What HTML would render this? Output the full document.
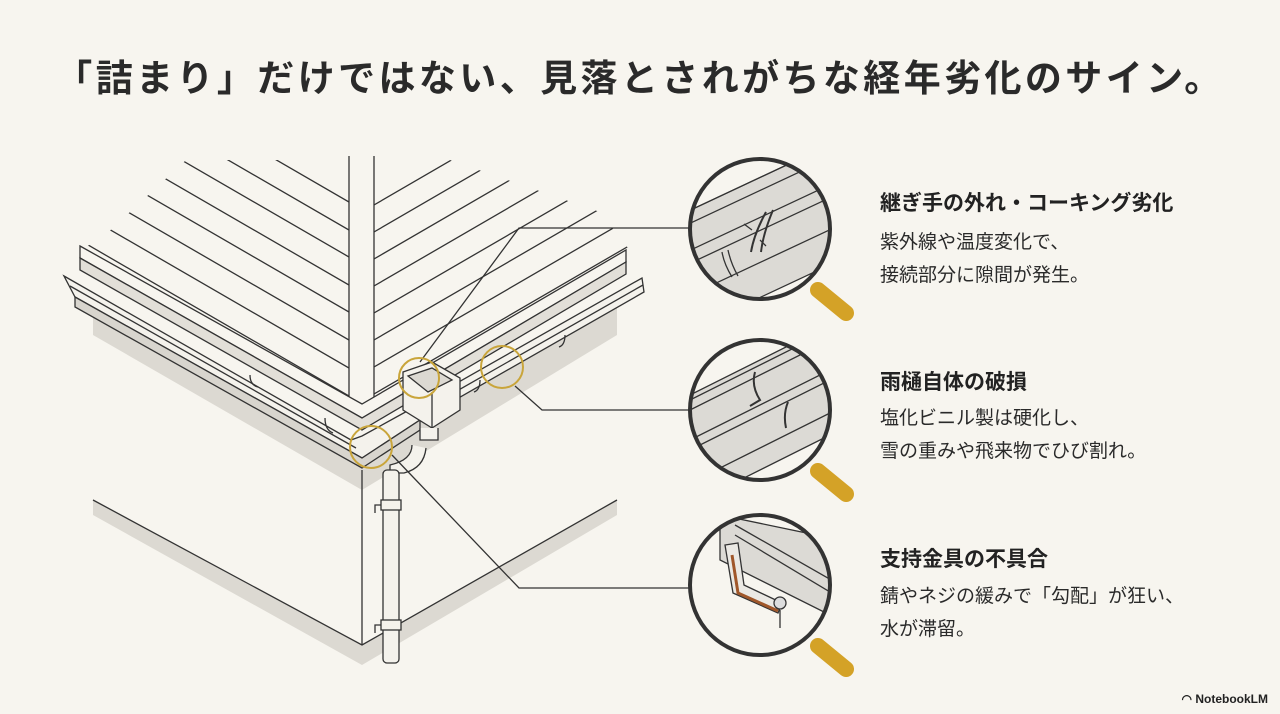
<!DOCTYPE html>
<html><head><meta charset="utf-8"><style>
html,body{margin:0;padding:0;background:#f7f5ef;}
body{width:1280px;height:714px;position:relative;overflow:hidden;font-family:"Liberation Sans","Noto Sans CJK JP",sans-serif;color:#222;}
.t{position:absolute;left:0;width:1280px;top:48px;text-align:center;font-size:37px;font-weight:bold;letter-spacing:3.4px;color:#2a2a2a;}
.h{position:absolute;left:880px;font-size:21px;font-weight:bold;color:#222;}
.b{position:absolute;left:880px;font-size:19px;line-height:33px;color:#2a2a2a;}
.nb{position:absolute;right:12px;bottom:8px;font-size:12px;font-weight:bold;color:#222;}
</style></head><body>
<svg width="1280" height="714" style="position:absolute;left:0;top:0">
<defs>
<clipPath id="cl"><polygon points="186,160 349,160 349,400 80,250 102,238"/></clipPath>
<clipPath id="cr"><polygon points="374,160 450,160 600,212 628,248 374,400"/></clipPath>
<clipPath id="m1"><circle cx="760" cy="229" r="70"/></clipPath>
<clipPath id="m2"><circle cx="760" cy="410" r="70"/></clipPath>
<clipPath id="m3"><circle cx="760" cy="585" r="70"/></clipPath>
</defs>
<g stroke="#333" stroke-width="1.3" fill="none">
<polygon points="93,300 93,335 362,490 617,335 617,300 362,455" fill="#dcd9d2" stroke="none"/>
<polygon points="93,500 93,515 362,665 617,515 617,500 362,645" fill="#dcd9d2" stroke="none"/>
<polyline points="93,500 362,645 617,500"/>
<line x1="362" y1="470" x2="362" y2="645"/>
<g clip-path="url(#cl)">
<line x1="0" y1="83" x2="349" y2="285"/><line x1="0" y1="110" x2="349" y2="312"/><line x1="0" y1="138" x2="349" y2="340"/>
<line x1="0" y1="55" x2="349" y2="257"/><line x1="0" y1="28" x2="349" y2="230"/><line x1="0" y1="0" x2="349" y2="202"/>
<line x1="0" y1="166" x2="349" y2="368"/><line x1="0" y1="194" x2="349" y2="396"/>
</g>
<g clip-path="url(#cr)">
<line x1="374" y1="205" x2="720" y2="4"/><line x1="374" y1="232" x2="720" y2="31"/><line x1="374" y1="259" x2="720" y2="58"/>
<line x1="374" y1="286" x2="720" y2="85"/><line x1="374" y1="313" x2="720" y2="112"/><line x1="374" y1="340" x2="720" y2="139"/>
<line x1="374" y1="367" x2="720" y2="166"/><line x1="374" y1="394" x2="720" y2="193"/>
</g>
<line x1="349" y1="156" x2="349" y2="400"/><line x1="374" y1="156" x2="374" y2="400"/>
<polygon points="80,246 362,404 626,250 626,262 362,418 80,258" fill="#f7f5ef"/>
<polygon points="80,258 362,418 626,262 626,274 362,430 80,270" fill="#e2dfd8"/>
<polygon points="64,276 351,440 362,436 420,404 642,278 644,292 420,420 362,458 75,297" fill="#f4f2ec"/>
<line x1="70" y1="286" x2="356" y2="448"/><line x1="420" y1="412" x2="643" y2="285"/>
<polygon points="75,297 362,458 420,420 420,430 362,468 75,307" fill="#d8d5ce"/>
<path d="M250,375 q0,10 8,12 M325,418 q0,12 8,15 M565,335 q0,10 -6,12 M480,380 q0,10 -6,12"/>
<polygon points="403,372 432,362 460,378 460,410 432,428 403,410" fill="#f4f2ec"/>
<polygon points="408,376 432,368 452,380 428,392" fill="#dcd9d2"/>
<line x1="432" y1="392" x2="432" y2="428"/>
<path d="M420,428 v12 h18 v-12 M412,445 q0,15 -22,20 v8 h14 q20,-5 22,-25" fill="#f4f2ec"/>
<rect x="383" y="470" width="16" height="193" rx="4" fill="#f4f2ec"/>
<rect x="381" y="500" width="20" height="10" fill="#f4f2ec"/><rect x="381" y="620" width="20" height="10" fill="#f4f2ec"/>
<path d="M381,505 h-6 v8 M381,625 h-6 v8"/>
</g>
<g stroke="#333" stroke-width="1.3" fill="none">
<polyline points="420,362 519,228 690,228"/>
<polyline points="515,386 542,410 690,410"/>
<polyline points="392,455 519,588 690,588"/>
</g>
<g stroke="#c9a53b" stroke-width="2" fill="none">
<circle cx="419" cy="378" r="20"/><circle cx="502" cy="367" r="21"/><circle cx="371" cy="447" r="21"/>
</g>
<g stroke-linecap="round">
<line x1="818" y1="290" x2="846" y2="313" stroke="#d4a227" stroke-width="16"/>
<line x1="818" y1="471" x2="846" y2="494" stroke="#d4a227" stroke-width="16"/>
<line x1="818" y1="646" x2="846" y2="669" stroke="#d4a227" stroke-width="16"/>
</g>
<g stroke="#333" stroke-width="1.3" fill="none">
<circle cx="760" cy="229" r="70" fill="#f7f5ef"/>
<g clip-path="url(#m1)">
<polygon points="680,215 840,140 840,260 680,335" fill="#dcdad5"/>
<line x1="680" y1="215" x2="840" y2="140"/><line x1="680" y1="228" x2="840" y2="153"/>
<line x1="680" y1="255" x2="840" y2="180"/><line x1="680" y1="268" x2="840" y2="193"/>
<line x1="680" y1="300" x2="840" y2="225"/>
<path d="M766,212 q-12,22 -15,40 M773,210 q-10,24 -12,42" stroke-width="2"/>
<path d="M722,252 q2,12 10,25 M728,250 q3,14 10,26"/>
<path d="M752,230 l-8,-6 M760,240 l6,6"/>
</g>
<circle cx="760" cy="229" r="70" stroke-width="4"/>
<circle cx="760" cy="410" r="70" fill="#f7f5ef"/>
<g clip-path="url(#m2)">
<polygon points="680,400 840,320 840,430 680,510" fill="#dcdad5"/>
<line x1="680" y1="405" x2="840" y2="325"/><line x1="680" y1="415" x2="840" y2="335"/>
<line x1="680" y1="445" x2="840" y2="365"/><line x1="680" y1="455" x2="840" y2="375"/>
<line x1="680" y1="488" x2="840" y2="408"/>
<path d="M755,372 q-4,14 5,28 l-10,6 M788,402 q-5,12 -2,26" stroke-width="2"/>
</g>
<circle cx="760" cy="410" r="70" stroke-width="4"/>
<circle cx="760" cy="585" r="70" fill="#f7f5ef"/>
<g clip-path="url(#m3)">
<polygon points="720,515 840,540 840,620 720,560" fill="#dcdad5"/>
<line x1="735" y1="525" x2="840" y2="585"/><line x1="735" y1="535" x2="840" y2="598"/>
<path d="M725,545 l8,48 l45,20 l4,-10 l-38,-18 l-6,-42 z" fill="#ebe9e4"/>
<path d="M732,555 l6,38 l40,18" stroke="#a0572a" stroke-width="3"/>
<circle cx="780" cy="603" r="6" fill="#ddd"/><path d="M780,610 l0,18"/>
</g>
<circle cx="760" cy="585" r="70" stroke-width="4"/>
</g>
</svg>
<div class="t">「詰まり」だけではない、見落とされがちな経年劣化のサイン。</div>
<div class="h" style="top:187px">継ぎ手の外れ・コーキング劣化</div>
<div class="b" style="top:226px">紫外線や温度変化で、<br>接続部分に隙間が発生。</div>
<div class="h" style="top:366px">雨樋自体の破損</div>
<div class="b" style="top:402px">塩化ビニル製は硬化し、<br>雪の重みや飛来物でひび割れ。</div>
<div class="h" style="top:543px">支持金具の不具合</div>
<div class="b" style="top:580px">錆やネジの緩みで「勾配」が狂い、<br>水が滞留。</div>
<div class="nb">◠ NotebookLM</div>
</body></html>
